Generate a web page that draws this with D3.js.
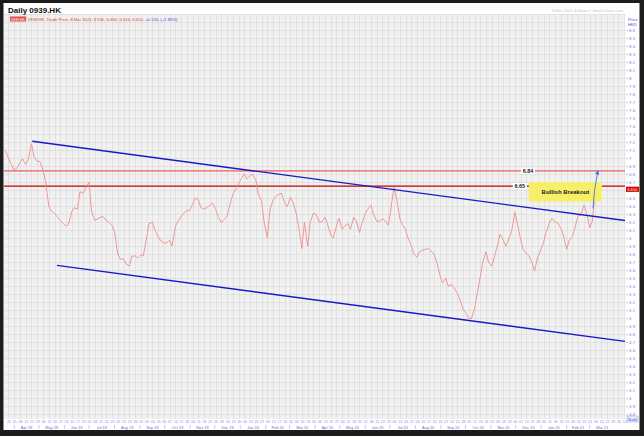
<!DOCTYPE html>
<html>
<head>
<meta charset="utf-8">
<script src="https://cdn.jsdelivr.net/npm/d3@7"></script>
<style>
  body { margin: 0; background: #fff; }
  svg { display: block; font-family: "Liberation Sans", Arial, sans-serif; }
</style>
</head>
<body>
<svg id="chart" width="644" height="436"></svg>
<script>
const priceDates = [
  "2019-03-21","2019-03-25","2019-03-28",
  "2019-04-01","2019-04-04","2019-04-08","2019-04-11","2019-04-15","2019-04-18","2019-04-22","2019-04-25","2019-04-29",
  "2019-05-02","2019-05-06","2019-05-09","2019-05-13","2019-05-16","2019-05-20","2019-05-23","2019-05-27","2019-05-30",
  "2019-06-03","2019-06-06","2019-06-10","2019-06-13","2019-06-17","2019-06-20","2019-06-24","2019-06-27",
  "2019-07-01","2019-07-04","2019-07-08","2019-07-11","2019-07-15","2019-07-18","2019-07-22","2019-07-25","2019-07-29",
  "2019-08-01","2019-08-05","2019-08-08","2019-08-12","2019-08-15","2019-08-19","2019-08-22","2019-08-26","2019-08-29",
  "2019-09-02","2019-09-05","2019-09-09","2019-09-12","2019-09-16","2019-09-19","2019-09-23","2019-09-26","2019-09-30",
  "2019-10-03","2019-10-07","2019-10-10","2019-10-14","2019-10-17","2019-10-21","2019-10-24","2019-10-28","2019-10-31",
  "2019-11-04","2019-11-07","2019-11-11","2019-11-14","2019-11-18","2019-11-21","2019-11-25","2019-11-28",
  "2019-12-02","2019-12-05","2019-12-09","2019-12-12","2019-12-16","2019-12-19","2019-12-23","2019-12-26","2019-12-30",
  "2020-01-02","2020-01-06","2020-01-09","2020-01-13","2020-01-16","2020-01-20","2020-01-23","2020-01-27","2020-01-30",
  "2020-02-03","2020-02-06","2020-02-10","2020-02-13","2020-02-17","2020-02-20","2020-02-24","2020-02-27",
  "2020-03-02","2020-03-05","2020-03-09","2020-03-12","2020-03-16","2020-03-19","2020-03-23","2020-03-26","2020-03-30",
  "2020-04-02","2020-04-06","2020-04-09","2020-04-13","2020-04-16","2020-04-20","2020-04-23","2020-04-27","2020-04-30",
  "2020-05-04","2020-05-07","2020-05-11","2020-05-14","2020-05-18","2020-05-21","2020-05-25","2020-05-28",
  "2020-06-01","2020-06-04","2020-06-08","2020-06-11","2020-06-15","2020-06-18","2020-06-22","2020-06-25","2020-06-29",
  "2020-07-02","2020-07-06","2020-07-09","2020-07-13","2020-07-16","2020-07-20","2020-07-23","2020-07-27","2020-07-30",
  "2020-08-03","2020-08-06","2020-08-10","2020-08-13","2020-08-17","2020-08-20","2020-08-24","2020-08-27","2020-08-31",
  "2020-09-03","2020-09-07","2020-09-10","2020-09-14","2020-09-17","2020-09-21","2020-09-24","2020-09-28",
  "2020-10-01","2020-10-05","2020-10-08","2020-10-12","2020-10-15","2020-10-19","2020-10-22","2020-10-26","2020-10-29",
  "2020-11-02","2020-11-05","2020-11-09","2020-11-12","2020-11-16","2020-11-19","2020-11-23","2020-11-26","2020-11-30",
  "2020-12-03","2020-12-07","2020-12-10","2020-12-14","2020-12-17","2020-12-21","2020-12-24","2020-12-28","2020-12-31",
  "2021-01-04","2021-01-07","2021-01-11","2021-01-14","2021-01-18","2021-01-21","2021-01-25","2021-01-28",
  "2021-02-01","2021-02-04","2021-02-08","2021-02-11","2021-02-15","2021-02-18","2021-02-22","2021-02-25",
  "2021-03-01","2021-03-04","2021-03-08"
];
const priceClose = [
  7.1, 7.0, 6.93,
  6.85, 6.87, 6.94, 6.99, 6.92, 6.98, 7.18, 7.02, 6.96,
  6.96, 6.85, 6.72, 6.4, 6.34, 6.31, 6.27, 6.22, 6.19,
  6.15, 6.17, 6.33, 6.38, 6.36, 6.58, 6.56, 6.63,
  6.7, 6.34, 6.22, 6.24, 6.26, 6.27, 6.22, 6.2, 6.16,
  6.08, 5.8, 5.74, 5.74, 5.68, 5.65, 5.77, 5.78, 5.75,
  5.79, 5.78, 6.0, 6.18, 6.2, 6.1, 6.02, 5.97, 5.94,
  5.94, 5.97, 5.9, 6.14, 6.21, 6.27, 6.31, 6.35, 6.34,
  6.42, 6.5, 6.48, 6.38, 6.36, 6.38, 6.41, 6.44,
  6.36, 6.27, 6.19, 6.23, 6.27, 6.4, 6.55, 6.6, 6.68,
  6.74, 6.8, 6.74, 6.78, 6.8, 6.72, 6.55, 6.46, 6.2,
  6.0, 6.35, 6.48, 6.52, 6.55, 6.56, 6.44, 6.39,
  6.51, 6.45, 6.31, 6.14, 5.87, 6.2, 5.9, 6.2, 6.31,
  6.3, 6.2, 6.2, 6.26, 6.18, 6.04, 6.0, 6.15, 6.25,
  6.11, 6.15, 6.18, 6.11, 6.26, 6.22, 6.07, 6.18,
  6.31, 6.36, 6.41, 6.3, 6.21, 6.21, 6.24, 6.22, 6.16,
  6.35, 6.64, 6.5, 6.25, 6.17, 6.11, 6.0, 5.91, 5.8,
  5.76, 5.83, 5.85, 5.86, 5.87, 5.84, 5.79, 5.7, 5.53,
  5.44, 5.5, 5.4, 5.42, 5.38, 5.31, 5.24, 5.11,
  5.07, 5.0, 4.99, 5.12, 5.29, 5.52, 5.7, 5.83, 5.7,
  5.65, 5.76, 5.92, 6.05, 5.97, 5.9, 6.0, 6.08, 6.32,
  6.19, 5.98, 5.86, 5.81, 5.78, 5.69, 5.59, 5.77, 5.84,
  5.95, 6.07, 6.19, 6.25, 6.2, 6.19, 6.12, 6.04,
  5.86, 5.97, 6.02, 6.12, 6.29, 6.28, 6.41, 6.33,
  6.13, 6.2, 6.58
];

const upperTrendDates = ["2019-04-23", "2021-04-13"];
const upperTrendValues = [7.21, 6.22];
const lowerTrendDates = ["2019-05-23", "2021-04-13"];
const lowerTrendValues = [5.66, 4.71];

const levelValues = [6.84, 6.65];
const levelLabelDates = ["2020-12-16", "2020-12-06"];

const noteText = "Bullish Breakout";
const noteDates = ["2020-12-17", "2021-03-16"];
const noteValues = [6.70, 6.455];
const arrowDates = ["2021-03-05", "2021-03-11"];
const arrowValues = [6.37, 6.84];

const lastClose = 6.61;

const priceTicks = [8.6, 8.5, 8.4, 8.3, 8.2, 8.1, 8, 7.9, 7.8, 7.7, 7.6, 7.5, 7.4, 7.3, 7.2, 7.1, 7,
  6.9, 6.8, 6.7, 6.6, 6.5, 6.4, 6.3, 6.2, 6.1, 6, 5.9, 5.8, 5.7, 5.6, 5.5, 5.4, 5.3, 5.2, 5.1, 5,
  4.9, 4.8, 4.7, 4.6, 4.5, 4.4, 4.3, 4.2, 4.1, 4, 3.9, 3.8];

const monthLabels = ["Apr 19", "May 19", "Jun 19", "Jul 19", "Aug 19", "Sep 19", "Oct 19", "Nov 19", "Dec 19",
  "Jan 20", "Feb 20", "Mar 20", "Apr 20", "May 20", "Jun 20", "Jul 20", "Aug 20", "Sep 20", "Oct 20", "Nov 20", "Dec 20",
  "Jan 21", "Feb 21", "Mar 21"];

const parseDate = d3.timeParse("%Y-%m-%d");
const parseMonth = d3.timeParse("%b %y");

const svg = d3.select("#chart");

const plot = { left: 4, right: 625, top: 14, bottom: 419 };

const x = d3.scaleTime()
    .domain([new Date(2019, 2, 22), new Date(2021, 3, 13)])
    .range([6, 625]);

const y = d3.scaleLinear()
    .domain([3.74, 8.8])
    .range([419, 14]);

// frame
svg.append("rect").attr("width", 644).attr("height", 436).attr("fill", "#1c1c1c");
svg.append("rect").attr("x", 3.5).attr("y", 3).attr("width", 636).attr("height", 427).attr("fill", "#fff");

// plot background + grid
svg.append("rect")
    .attr("x", plot.left).attr("y", plot.top)
    .attr("width", plot.right - plot.left).attr("height", plot.bottom - plot.top)
    .attr("fill", "#f1f1f1");

const grid = svg.append("g").attr("stroke", "#d9d9d9").attr("stroke-width", 0.6);
grid.selectAll(".hg")
    .data(y.ticks(50))
    .enter().append("line")
    .attr("x1", plot.left).attr("x2", plot.right)
    .attr("y1", d => Math.round(y(d)) + 0.5).attr("y2", d => Math.round(y(d)) + 0.5);
grid.selectAll(".vg")
    .data(x.ticks(d3.timeMonday.every(1)))
    .enter().append("line")
    .attr("y1", plot.top).attr("y2", plot.bottom)
    .attr("x1", d => Math.round(x(d)) + 0.5).attr("x2", d => Math.round(x(d)) + 0.5);

// title + legend
svg.append("text")
    .attr("x", 8).attr("y", 12.5)
    .attr("font-size", 8).attr("font-weight", "bold").attr("fill", "#111")
    .text("Daily 0939.HK");

svg.append("text")
    .attr("x", 623).attr("y", 12)
    .attr("text-anchor", "end")
    .attr("font-size", 4).attr("fill", "#c4c4c4")
    .text("8-Mar-2021 4:08am   \u00a9 StockCharts.com");

svg.append("rect")
    .attr("x", 10).attr("y", 16.5).attr("width", 16).attr("height", 5)
    .attr("fill", "#e0504a");
svg.append("text")
    .attr("x", 18).attr("y", 20.5).attr("text-anchor", "middle")
    .attr("font-size", 3.6).attr("fill", "#fff")
    .text("0939.HK");

const legend = svg.append("text")
    .attr("x", 28).attr("y", 20.8)
    .attr("font-size", 4.2);
legend.append("tspan").attr("fill", "#d2403a")
    .text("0939.HK, Trade Price, 8 Mar 2021, 6.530, 6.650, 6.510, 6.610, ");
legend.append("tspan").attr("fill", "#4a4ad8")
    .text("+0.120, (+1.85%)");

// horizontal levels
const levelColors = ["#f05a5a", "#c40000"];
svg.selectAll(".level")
    .data(levelValues)
    .enter().append("line")
    .attr("x1", plot.left).attr("x2", plot.right)
    .attr("y1", d => y(d)).attr("y2", d => y(d))
    .attr("stroke", (d, i) => levelColors[i])
    .attr("stroke-width", 1.4);

// price line
const line = d3.line()
    .x(d => x(d.date))
    .y(d => y(d.value));

const series = priceDates.map((d, i) => ({ date: parseDate(d), value: priceClose[i] }));

svg.append("path")
    .datum(series)
    .attr("fill", "none")
    .attr("stroke", "#ee8f8f")
    .attr("stroke-width", 0.9)
    .attr("stroke-linejoin", "round")
    .attr("d", line);

// trend channel
[[upperTrendDates, upperTrendValues], [lowerTrendDates, lowerTrendValues]].forEach(([ds, vs]) => {
    svg.append("path")
        .datum(ds.map((d, i) => ({ date: parseDate(d), value: vs[i] })))
        .attr("fill", "none")
        .attr("stroke", "#1818c8")
        .attr("stroke-width", 1.4)
        .attr("d", line);
});

// level labels
levelValues.forEach((v, i) => {
    const lx = x(parseDate(levelLabelDates[i]));
    svg.append("rect")
        .attr("x", lx - 7).attr("y", y(v) - 3)
        .attr("width", 14).attr("height", 6)
        .attr("fill", "#fff");
    svg.append("text")
        .attr("x", lx).attr("y", y(v) + 2)
        .attr("text-anchor", "middle")
        .attr("font-size", 5.5).attr("font-weight", "bold").attr("fill", "#222")
        .text(d3.format(".2f")(v));
});

// note box
const nx0 = x(parseDate(noteDates[0])), nx1 = x(parseDate(noteDates[1]));
const ny0 = y(noteValues[0]), ny1 = y(noteValues[1]);
svg.append("rect")
    .attr("x", nx0).attr("y", ny0)
    .attr("width", nx1 - nx0).attr("height", ny1 - ny0)
    .attr("fill", "#f7ef6a");
svg.append("text")
    .attr("x", (nx0 + nx1) / 2).attr("y", (ny0 + ny1) / 2 + 2)
    .attr("text-anchor", "middle")
    .attr("font-size", 6).attr("font-weight", "bold").attr("fill", "#222")
    .text(noteText);

// arrow
svg.append("defs").append("marker")
    .attr("id", "head")
    .attr("viewBox", "0 0 6 6")
    .attr("refX", 5).attr("refY", 3)
    .attr("markerWidth", 5).attr("markerHeight", 5)
    .attr("orient", "auto")
    .append("path").attr("d", "M0,0L6,3L0,6Z").attr("fill", "#3d78d0");

const ax0 = x(parseDate(arrowDates[0])), ay0 = y(arrowValues[0]);
const ax1 = x(parseDate(arrowDates[1])), ay1 = y(arrowValues[1]);
svg.append("path")
    .attr("d", `M${ax0},${ay0}Q${ax0 + 1},${(ay0 + ay1) / 2} ${ax1},${ay1}`)
    .attr("fill", "none")
    .attr("stroke", "#3d78d0")
    .attr("stroke-width", 0.9)
    .attr("marker-end", "url(#head)");

// right price axis (the last-price tag sits where its nearest tick label would be)
const yAxis = d3.axisRight(y)
    .tickValues(priceTicks)
    .tickSize(2)
    .tickPadding(1)
    .tickFormat(d => Math.abs(d - lastClose) < 0.05 ? "" : d3.format("~g")(d));

const ya = svg.append("g")
    .attr("transform", `translate(${plot.right + 1},0)`)
    .call(yAxis);
ya.select(".domain").remove();
ya.selectAll("line").attr("stroke", "#8c8ce0").attr("stroke-width", 0.6);
ya.selectAll("text").attr("fill", "#7a7ade").attr("font-size", 4.4).attr("font-family", "Liberation Sans, Arial, sans-serif");

svg.append("text").attr("x", 628).attr("y", 20.5)
    .attr("font-size", 4.2).attr("fill", "#4a4ad8").text("Price");
svg.append("text").attr("x", 628).attr("y", 25.5)
    .attr("font-size", 4.2).attr("fill", "#4a4ad8").text("HKD");

// last price tag
svg.append("rect")
    .attr("x", plot.right + 1).attr("y", y(lastClose) - 2.6)
    .attr("width", 13).attr("height", 5.2)
    .attr("fill", "#d80000");
svg.append("text")
    .attr("x", plot.right + 7.5).attr("y", y(lastClose) + 1.6)
    .attr("text-anchor", "middle")
    .attr("font-size", 4).attr("fill", "#fff")
    .text(d3.format(".3f")(lastClose));

// build tag
svg.append("rect")
    .attr("x", 627).attr("y", 416).attr("width", 11).attr("height", 6)
    .attr("fill", "#eef").attr("stroke", "#8c8ce0").attr("stroke-width", 0.5);
svg.append("text")
    .attr("x", 632.5).attr("y", 420.6).attr("text-anchor", "middle")
    .attr("font-size", 3.8).attr("fill", "#4a4ad8").text("Build");

// bottom date axis
const xAxis = d3.axisBottom(x)
    .ticks(d3.timeMonday.every(1))
    .tickSize(0)
    .tickPadding(0)
    .tickFormat(d3.timeFormat("%d"));

const xa = svg.append("g")
    .attr("transform", `translate(0,${plot.bottom + 1})`)
    .call(xAxis);
xa.select(".domain").remove();
xa.selectAll("text").attr("fill", "#8c8ce0").attr("font-size", 3.6).attr("dy", "0.85em")
    .attr("font-family", "Liberation Sans, Arial, sans-serif");

const months = svg.append("g")
    .attr("font-size", 3.9).attr("fill", "#6a6ad8").attr("text-anchor", "middle");
monthLabels.forEach(m => {
    const s = parseMonth(m);
    const e = d3.timeMonth.offset(s, 1);
    months.append("text")
        .attr("x", (x(s) + Math.min(x(e), plot.right)) / 2).attr("y", 428.5)
        .text(m);
    months.append("line")
        .attr("x1", x(s)).attr("x2", x(s))
        .attr("y1", 425).attr("y2", 429)
        .attr("stroke", "#8c8ce0").attr("stroke-width", 0.5);
});
</script>
</body>
</html>
